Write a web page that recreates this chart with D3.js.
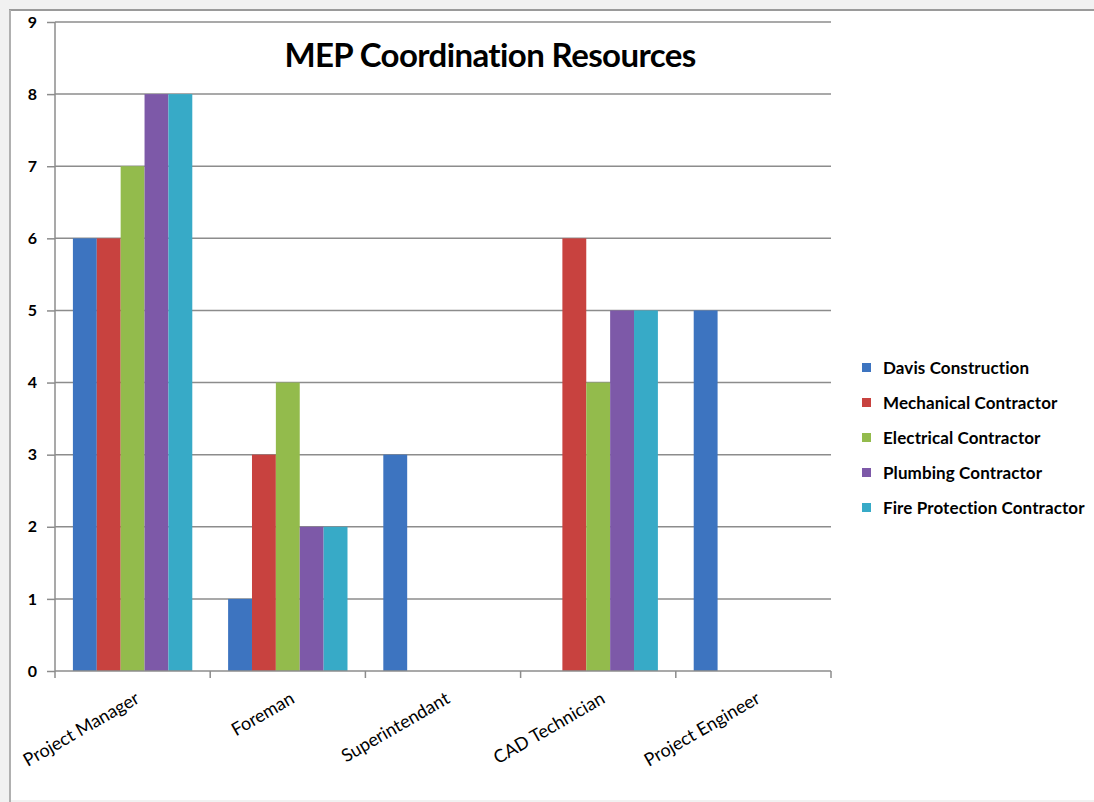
<!DOCTYPE html>
<html>
<head>
<meta charset="utf-8">
<script src="https://cdn.jsdelivr.net/npm/d3@7"></script>
<style>
  html, body { margin: 0; padding: 0; background: #f1f1f1; }
  svg { display: block; }
</style>
</head>
<body>
<svg id="chart" width="1094" height="802"></svg>
<script>
// Resource counts per role, one array per contractor
const categories = ["Project Manager", "Foreman", "Superintendant", "CAD Technician", "Project Engineer"];
const seriesNames = ["Davis Construction", "Mechanical Contractor", "Electrical Contractor", "Plumbing Contractor", "Fire Protection Contractor"];
const davis      = [6, 1, 3, 0, 5];
const mechanical = [6, 3, 0, 6, 0];
const electrical = [7, 4, 0, 4, 0];
const plumbing   = [8, 2, 0, 5, 0];
const fireProt   = [8, 2, 0, 5, 0];
const yTicks = [0, 1, 2, 3, 4, 5, 6, 7, 8, 9];
const colors = ["#3d74c0", "#c8423f", "#93bb4c", "#7d59a8", "#37aac7"];

const seriesValues = [davis, mechanical, electrical, plumbing, fireProt];

const svg = d3.select("#chart");
const W = 1094, H = 802;
const FONT = "Lato, 'Open Sans', sans-serif";

// Chart sheet background and frame
svg.append("rect").attr("x", 0).attr("y", 0).attr("width", W).attr("height", H).attr("fill", "#f1f1f1");
svg.append("rect").attr("x", 10).attr("y", 10).attr("width", W - 10).attr("height", H - 12).attr("fill", "#ffffff");
svg.append("line").attr("x1", 9).attr("x2", W).attr("y1", 10).attr("y2", 10).attr("stroke", "#9a9a9a").attr("stroke-width", 2);
svg.append("line").attr("x1", 10).attr("x2", 10).attr("y1", 10).attr("y2", H).attr("stroke", "#b0b0b0").attr("stroke-width", 2);

const plot = { left: 55, right: 831, top: 22, bottom: 671 };

const y = d3.scaleLinear().domain([0, 9]).range([plot.bottom, plot.top]);
const x0 = d3.scaleBand().domain(categories).range([plot.left, plot.right]).padding(0);
const gap = x0.bandwidth() * 1.5 / 6.5; // gap width of 150% of one bar
const x1 = d3.scaleBand().domain(seriesNames).range([gap / 2, x0.bandwidth() - gap / 2]).padding(0);

// Horizontal gridlines
svg.append("g").selectAll("line").data(yTicks.filter(d => d > 0)).join("line")
  .attr("x1", plot.left).attr("x2", plot.right)
  .attr("y1", d => y(d)).attr("y2", d => y(d))
  .attr("stroke", "#8c8c8c").attr("stroke-width", 1.5);

// Title
svg.append("text")
  .attr("x", 490).attr("y", 67)
  .attr("text-anchor", "middle")
  .attr("font-family", FONT)
  .attr("font-weight", "bold")
  .attr("font-size", 33)
  .attr("letter-spacing", -0.6)
  .attr("fill", "#000")
  .text("MEP Coordination Resources");

// Bars
const groups = svg.append("g").selectAll("g").data(categories).join("g")
  .attr("transform", d => `translate(${x0(d)},0)`);
groups.selectAll("rect")
  .data((c, ci) => seriesNames.map((s, si) => ({ s, si, v: seriesValues[si][ci] })))
  .join("rect")
  .attr("x", d => x1(d.s))
  .attr("width", x1.bandwidth())
  .attr("y", d => y(d.v))
  .attr("height", d => y(0) - y(d.v))
  .attr("fill", d => colors[d.si]);

// Y axis
const yAxis = svg.append("g").attr("transform", `translate(${plot.left},0)`)
  .call(d3.axisLeft(y).tickValues(yTicks).tickSize(8).tickPadding(10).tickFormat(d3.format("d")));
yAxis.select(".domain").attr("stroke", "#8c8c8c").attr("stroke-width", 1.5).attr("d", `M0,${plot.top}V${plot.bottom}`);
yAxis.selectAll(".tick line").attr("stroke", "#8c8c8c").attr("stroke-width", 1.5);
yAxis.selectAll(".tick text")
  .attr("font-family", FONT)
  .attr("font-weight", "bold")
  .attr("font-size", 16)
  .attr("fill", "#000");

// X axis
const xAxis = svg.append("g").attr("transform", `translate(0,${plot.bottom})`);
xAxis.append("line").attr("x1", plot.left).attr("x2", plot.right).attr("y1", 0).attr("y2", 0)
  .attr("stroke", "#8c8c8c").attr("stroke-width", 1.5);
const boundaries = categories.map(c => x0(c) + x0.bandwidth());
xAxis.selectAll("line.tk").data([plot.left, ...boundaries]).join("line").attr("class", "tk")
  .attr("x1", d => d).attr("x2", d => d).attr("y1", 0).attr("y2", 7)
  .attr("stroke", "#8c8c8c").attr("stroke-width", 1.5);
xAxis.selectAll("text").data(categories).join("text")
  .attr("transform", d => `translate(${x0(d) + x0.bandwidth() / 2 + 8},${31}) rotate(-30)`)
  .attr("text-anchor", "end")
  .attr("font-family", FONT)
  .attr("font-size", 18)
  .attr("fill", "#000")
  .text(d => d);

// Legend
const legend = svg.append("g").attr("transform", "translate(862,368)");
const rows = legend.selectAll("g").data(seriesNames).join("g")
  .attr("transform", (d, i) => `translate(0,${i * 35})`);
rows.append("rect").attr("x", 0).attr("y", -5).attr("width", 9).attr("height", 9)
  .attr("fill", (d, i) => colors[i]);
rows.append("text").attr("x", 21).attr("y", 6)
  .attr("font-family", FONT)
  .attr("font-weight", "bold")
  .attr("font-size", 17)
  .attr("letter-spacing", 0.1)
  .attr("fill", "#000")
  .text(d => d);
</script>
</body>
</html>
